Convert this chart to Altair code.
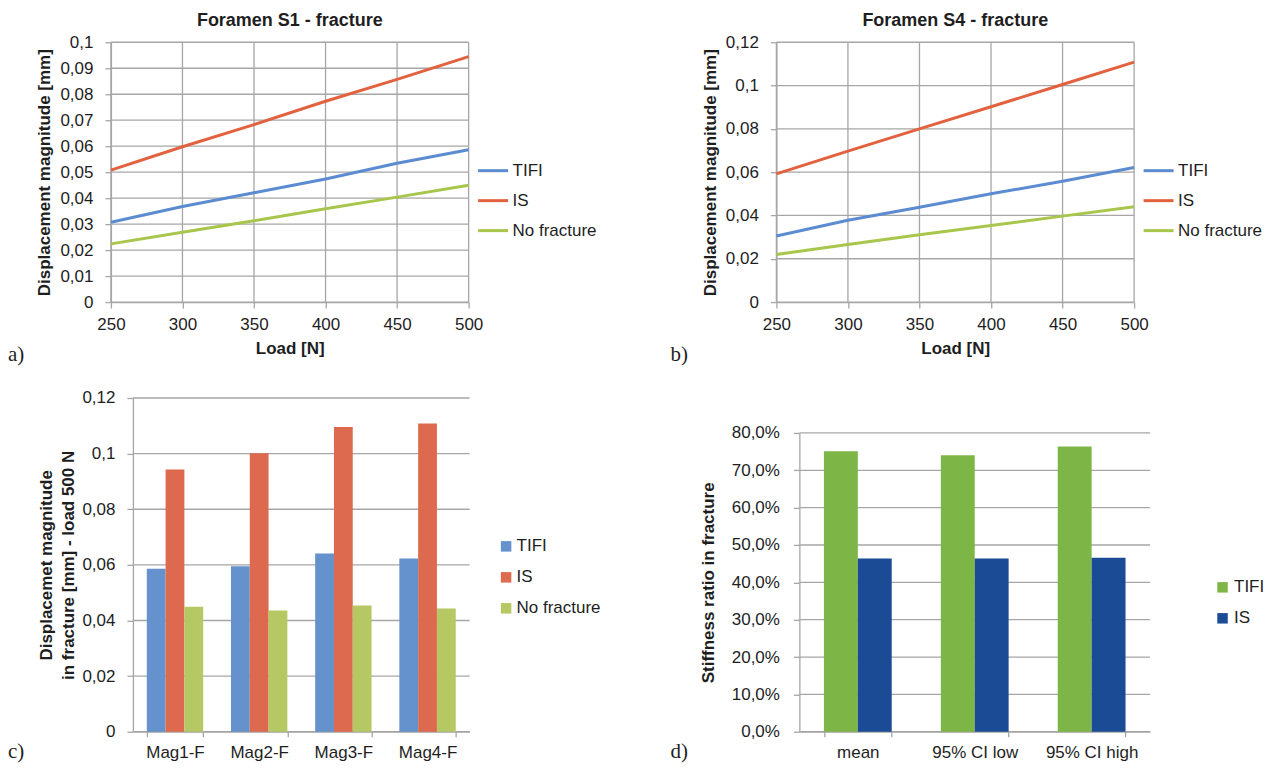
import altair as alt
import pandas as pd

# ---------------- data ----------------
loads = [250, 300, 350, 400, 450, 500]
series = ["TIFI", "IS", "No fracture"]

s1_tifi = [0.0307, 0.0368, 0.0421, 0.0474, 0.0534, 0.0586]
s1_is = [0.0508, 0.0598, 0.0683, 0.0773, 0.0857, 0.0945]
s1_nf = [0.0224, 0.0269, 0.0313, 0.0359, 0.0404, 0.0450]

s4_tifi = [0.0305, 0.0378, 0.0438, 0.0500, 0.0558, 0.0622]
s4_is = [0.0592, 0.0697, 0.0800, 0.0902, 0.1005, 0.1108]
s4_nf = [0.0220, 0.0266, 0.0311, 0.0354, 0.0397, 0.0440]

mags = ["Mag1-F", "Mag2-F", "Mag3-F", "Mag4-F"]
mag_tifi = [0.0586, 0.0595, 0.0641, 0.0623]
mag_is = [0.0943, 0.1001, 0.1096, 0.1108]
mag_nf = [0.0449, 0.0436, 0.0454, 0.0443]

stats = ["mean", "95% CI low", "95% CI high"]
ratio_series = ["TIFI", "IS"]
ratio_tifi = [0.751, 0.740, 0.764]
ratio_is = [0.464, 0.464, 0.466]

ticks_s1 = [0, 0.01, 0.02, 0.03, 0.04, 0.05, 0.06, 0.07, 0.08, 0.09, 0.1]
ticks_s4 = [0, 0.02, 0.04, 0.06, 0.08, 0.1, 0.12]
ticks_pct = [0, 0.1, 0.2, 0.3, 0.4, 0.5, 0.6, 0.7, 0.8]

# ---------------- style / layout ----------------
FONT = "Liberation Sans"
SERIF = "Liberation Serif"
GRID = "#a6a6a6"
TXT = "#1e1e1e"
line_colors = ["#5b8bd0", "#e2623f", "#a8c64c"]
bar_colors_c = ["#6591cc", "#dd6a4f", "#b5c864"]
bar_colors_d = ["#7db646", "#1b4b94"]

W, H = 1257, 756          # whole drawing area
XA, YA = [103, 461], [294, 34]     # panel a plot rectangle
XB, YB = [769, 1127], [294, 34]    # panel b
XC, YC = [125, 462], [724, 390]    # panel c
XD, YD = [792, 1143], [724, 425]   # panel d


def txt(text, x, y, align="left", size=21, font=SERIF, weight="normal"):
    return alt.Chart(pd.DataFrame({"t": [text]})).mark_text(
        align=align, baseline="middle", fontSize=size, font=font, color=TXT,
        fontWeight=weight,
    ).encode(x=alt.value(x), y=alt.value(y), text="t:N")


def grid(df, xdom, xr, ydom, yr):
    return alt.Chart(df).mark_rule(color=GRID, strokeWidth=1.3).encode(
        x=alt.X("x:Q", scale=alt.Scale(domain=xdom, range=xr, nice=False, zero=False), axis=None),
        x2="x2:Q",
        y=alt.Y("y:Q", scale=alt.Scale(domain=ydom, range=yr, nice=False), axis=None),
        y2="y2:Q",
    )


def yaxis(values, fmt, title, xr, pad=12, tpad=6):
    return alt.Axis(
        orient="left", offset=-xr[0], values=values, format=fmt,
        labelExpr="replace(datum.label, '.', ',')", title=title, grid=False,
        tickSize=6, labelPadding=pad, titlePadding=tpad, labelFlush=False,
        titleLineHeight=22,
    )


def line_panel(tifi, is_, nf, ymax, yticks, xr, yr):
    df = pd.DataFrame({
        "Load": loads * 3,
        "value": tifi + is_ + nf,
        "series": [s for s in series for _ in loads],
    })
    gdf = pd.DataFrame({
        "x": [250] * len(yticks) + loads,
        "x2": [500] * len(yticks) + loads,
        "y": yticks + [0] * len(loads),
        "y2": yticks + [ymax] * len(loads),
    })
    g = grid(gdf, [250, 500], xr, [0, ymax], yr)
    lines = alt.Chart(df).mark_line(strokeWidth=3).encode(
        x=alt.X("Load:Q", scale=alt.Scale(domain=[250, 500], range=xr, nice=False, zero=False),
                axis=alt.Axis(orient="bottom", offset=yr[0] - H, values=loads,
                              title="Load [N]", grid=False, tickSize=6, labelPadding=8,
                              titlePadding=8, labelFlush=False)),
        y=alt.Y("value:Q", scale=alt.Scale(domain=[0, ymax], range=yr, nice=False),
                axis=yaxis(yticks, ".2~f", "Displacement magnitude [mm]", xr)),
        color=alt.Color("series:N", sort=series,
                        scale=alt.Scale(domain=series, range=line_colors),
                        legend=alt.Legend(orient="none", legendX=xr[1] + 8, legendY=146,
                                          title=None, symbolType="stroke", symbolSize=900,
                                          symbolStrokeWidth=3, labelOffset=3, rowPadding=5)),
        order="Load:Q",
    )
    return g, lines


grid_a, lines_a = line_panel(s1_tifi, s1_is, s1_nf, 0.1, ticks_s1, XA, YA)
grid_b, lines_b = line_panel(s4_tifi, s4_is, s4_nf, 0.12, ticks_s4, XB, YB)

# ---------------- panel c ----------------
df_c = pd.DataFrame({
    "mag": mags * 3,
    "value": mag_tifi + mag_is + mag_nf,
    "series": [s for s in series for _ in mags],
})
grid_c = grid(pd.DataFrame({"x": [0] * len(ticks_s4), "x2": [1] * len(ticks_s4),
                            "y": ticks_s4, "y2": ticks_s4}),
              [0, 1], XC, [0, 0.12], YC)
bars_c = alt.Chart(df_c).mark_bar().encode(
    x=alt.X("mag:N", sort=mags, title=None,
            scale=alt.Scale(domain=mags, range=XC, paddingInner=0.33, paddingOuter=0.165),
            axis=alt.Axis(orient="bottom", offset=YC[0] - H, tickBand="extent", grid=False,
                          labelAngle=0, tickSize=5, labelPadding=8)),
    xOffset=alt.XOffset("series:N", sort=series),
    y=alt.Y("value:Q", scale=alt.Scale(domain=[0, 0.12], range=YC, nice=False),
            axis=yaxis(ticks_s4, ".2~f",
                       ["Displacemet magnitude", "in fracture [mm] - load 500 N"],
                       XC, tpad=4)),
    color=alt.Color("series:N", sort=series,
                    scale=alt.Scale(domain=series, range=bar_colors_c),
                    legend=alt.Legend(orient="none", legendX=490, legendY=530,
                                      title=None, symbolType="square", symbolSize=110,
                                      symbolStrokeWidth=0, labelOffset=2, rowPadding=13)),
)

# ---------------- panel d ----------------
df_d = pd.DataFrame({
    "stat": stats * 2,
    "value": ratio_tifi + ratio_is,
    "series": [s for s in ratio_series for _ in stats],
})
grid_d = grid(pd.DataFrame({"x": [0] * len(ticks_pct), "x2": [1] * len(ticks_pct),
                            "y": ticks_pct, "y2": ticks_pct}),
              [0, 1], XD, [0, 0.8], YD)
bars_d = alt.Chart(df_d).mark_bar().encode(
    x=alt.X("stat:N", sort=stats, title=None,
            scale=alt.Scale(domain=stats, range=XD, paddingInner=0.42, paddingOuter=0.21),
            axis=alt.Axis(orient="bottom", offset=YD[0] - H, tickBand="extent", grid=False,
                          labelAngle=0, tickSize=5, labelPadding=8)),
    xOffset=alt.XOffset("series:N", sort=ratio_series),
    y=alt.Y("value:Q", scale=alt.Scale(domain=[0, 0.8], range=YD, nice=False),
            axis=yaxis(ticks_pct, ".1%", "Stiffness ratio in fracture", XD, pad=14, tpad=14)),
    color=alt.Color("series:N", sort=ratio_series,
                    scale=alt.Scale(domain=ratio_series, range=bar_colors_d),
                    legend=alt.Legend(orient="none", legendX=1207, legendY=571,
                                      title=None, symbolType="square", symbolSize=110,
                                      symbolStrokeWidth=0, labelOffset=3, rowPadding=13)),
)

# ---------------- titles and panel letters ----------------
texts = [
    txt("Foramen S1 - fracture", (XA[0] + XA[1]) / 2, 13, align="center", size=18,
        font=FONT, weight="bold"),
    txt("Foramen S4 - fracture", (XB[0] + XB[1]) / 2, 13, align="center", size=18,
        font=FONT, weight="bold"),
    txt("a)", 0, 347), txt("b)", 663, 347), txt("c)", 0, 744), txt("d)", 663, 744),
]

chart = alt.layer(
    grid_a, grid_b, grid_c, grid_d, lines_a, lines_b, bars_c, bars_d, *texts
).resolve_scale(
    x="independent", y="independent", color="independent", xOffset="independent"
).properties(
    width=W, height=H, padding={"left": 0, "top": 0, "right": 0, "bottom": 0}
).configure_view(
    stroke=None
).configure_axis(
    labelFont=FONT, labelFontSize=17, labelColor=TXT,
    titleFont=FONT, titleFontSize=17, titleFontWeight="bold", titleColor=TXT,
    domainColor=GRID, domainWidth=1.3, tickColor=GRID, tickWidth=1.3,
).configure_legend(
    labelFont=FONT, labelFontSize=17, labelColor=TXT, padding=0,
)

chart.save("out.html", embed_options={"renderer": "svg", "actions": False})
